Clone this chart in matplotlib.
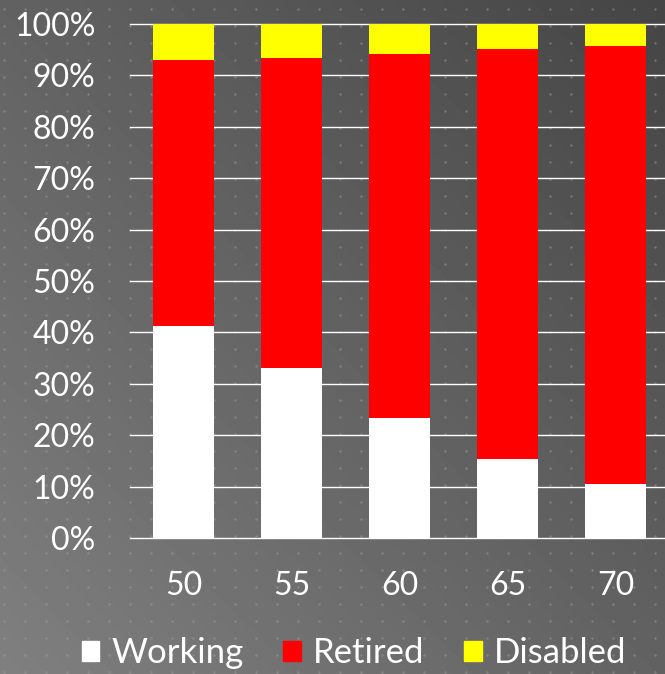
import numpy as np
import matplotlib
matplotlib.use("Agg")
import matplotlib.pyplot as plt
from matplotlib.patches import Patch

plt.rcParams['font.family'] = ['Lato', 'DejaVu Sans']

ages = ["50", "55", "60", "65", "70"]
working = [41.2, 33.1, 23.3, 15.4, 10.5]
retired_top = [93.0, 93.4, 94.2, 95.1, 95.7]
retired = [t - w for t, w in zip(retired_top, working)]
disabled = [100 - t for t in retired_top]

W, H = 665, 674
fig = plt.figure(figsize=(W / 100, H / 100), dpi=100)

# gradient background with dot pattern
bg = fig.add_axes([0, 0, 1, 1])
gx, gy = np.meshgrid(np.linspace(0, 1, 200), np.linspace(0, 1, 200))
grad = (gx + (1 - gy)) / 2  # 0 at bottom-left, 1 at top-right (origin upper)
grad = 0.50 - grad * 0.23
bg.imshow(np.flipud(grad), cmap="gray", vmin=0, vmax=1, extent=[0, W, 0, H],
          aspect="auto", origin="lower")
dx, dy = np.meshgrid(np.arange(4, W, 21), np.arange(H - 9, 0, -17))
bg.scatter(dx.ravel(), dy.ravel(), s=3, c="#a0a0a0", alpha=0.5, linewidths=0)
bg.set_xlim(0, W)
bg.set_ylim(0, H)
bg.axis("off")

ax = fig.add_axes([130 / W, 1 - 538 / H, 539 / W, 514 / H])
ax.patch.set_alpha(0)
x = np.arange(len(ages))
bw = 0.565
ax.bar(x, working, bw, color="white", zorder=3)
ax.bar(x, retired, bw, bottom=working, color="#ff0000", zorder=3)
ax.bar(x, disabled, bw, bottom=retired_top, color="#ffff00", zorder=3)

ax.set_xlim(-0.495, 4.495)
ax.set_ylim(0, 100)
ax.set_yticks(np.arange(0, 101, 10))
ax.set_yticklabels([f"{v}%" for v in range(0, 101, 10)])
ax.set_xticks(x)
ax.set_xticklabels(ages)
ax.grid(axis="y", color="white", linewidth=1, zorder=1)
ax.set_axisbelow(True)
for s in ax.spines.values():
    s.set_visible(False)
ax.tick_params(axis="both", length=0, colors="white", labelsize=23)
ax.tick_params(axis="y", pad=25)
ax.tick_params(axis="x", pad=24)
for gl in ax.get_ygridlines():
    gl.set_clip_on(False)

handles = [Patch(color="white", label="Working"),
           Patch(color="#ff0000", label="Retired"),
           Patch(color="#ffff00", label="Disabled")]
leg = fig.legend(handles=handles, loc="center", bbox_to_anchor=(354 / W, 1 - 653 / H),
                 ncol=3, frameon=False, fontsize=25, handlelength=0.5, handleheight=0.5,
                 handletextpad=0.35, columnspacing=1.15, labelcolor="white")

fig.savefig("out.png", dpi=100)
